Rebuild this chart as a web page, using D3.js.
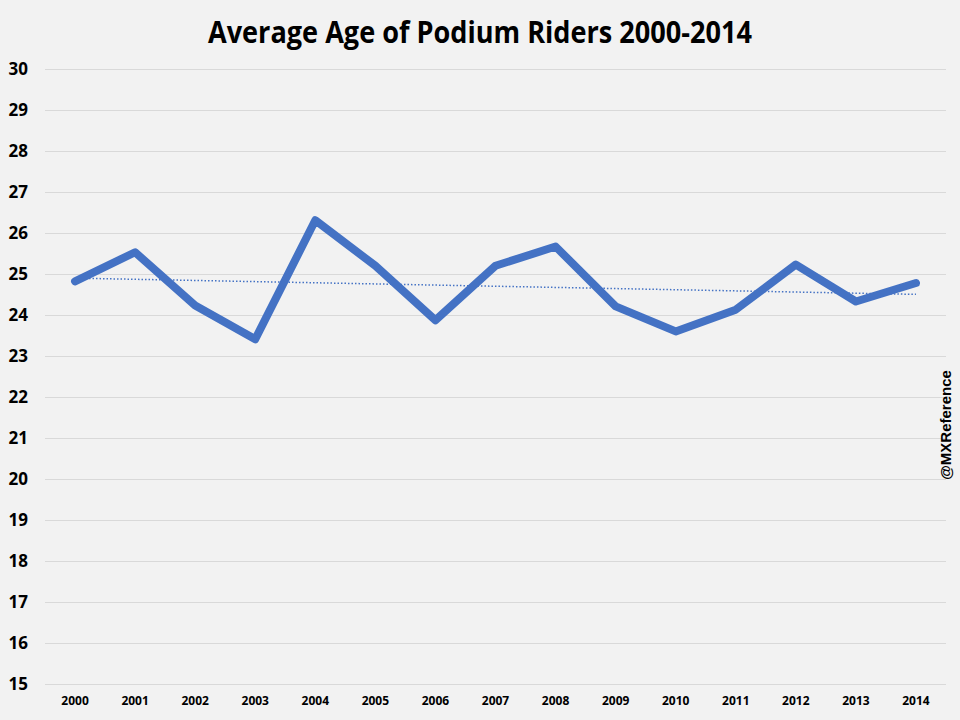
<!DOCTYPE html>
<html>
<head>
<meta charset="utf-8">
<script src="https://cdn.jsdelivr.net/npm/d3@7"></script>
<style>
  body { margin: 0; background: #f2f2f2; }
  svg { display: block; }
</style>
</head>
<body>
<script>
// Average age of podium riders, line + linear trend
const years = ["2000","2001","2002","2003","2004","2005","2006","2007","2008","2009","2010","2011","2012","2013","2014"]
const ages = [24.82, 25.53, 24.23, 23.41, 26.31, 25.2, 23.87, 25.2, 25.67, 24.21, 23.6, 24.13, 25.23, 24.33, 24.78]
const yTicks = [15,16,17,18,19,20,21,22,23,24,25,26,27,28,29,30]

const w = 960, h = 720
const padL = 45, padR = 946, padT = 69, padB = 684

const svg = d3.select("body").append("svg")
  .attr("width", w).attr("height", h)
  .style("background-color", "#f2f2f2")

svg.append("text")
  .attr("x", 480).attr("y", 43)
  .attr("text-anchor", "middle")
  .style("font-family", "'Open Sans', 'Liberation Sans', sans-serif")
  .style("font-weight", "bold")
  .style("font-size", "30px")
  .attr("textLength", 544)
  .attr("lengthAdjust", "spacingAndGlyphs")
  .text("Average Age of Podium Riders 2000-2014")

//? scales
const xScale = d3.scaleBand().domain(years).range([padL, padR])
const yScale = d3.scaleLinear().domain([15, 30]).range([padB, padT])

// gridlines
const yAxis = d3.axisLeft(yScale).tickValues(yTicks).tickSize(-(padR - padL)).tickPadding(17)
const gy = svg.append("g")
  .attr("transform", "translate(" + padL + ",0)")
  .call(yAxis)
gy.select(".domain").remove()
gy.selectAll(".tick line").attr("stroke", "#d9d9d9").attr("stroke-width", 1)
gy.selectAll(".tick text")
  .style("font-family", "'Open Sans', 'Liberation Sans', sans-serif")
  .style("font-weight", "bold")
  .style("font-size", "17px")
  .attr("fill", "#000")

const xAxis = d3.axisBottom(xScale).tickSize(0).tickPadding(12)
const gx = svg.append("g")
  .attr("transform", "translate(0," + padB + ")")
  .call(xAxis)
gx.select(".domain").remove()
gx.selectAll(".tick text")
  .style("font-family", "'Open Sans', 'Liberation Sans', sans-serif")
  .style("font-weight", "bold")
  .style("font-size", "12px")
  .attr("fill", "#000")

const cx = (d, i) => xScale(years[i]) + xScale.bandwidth() / 2

// trend line (least squares over the series)
const n = ages.length
const mx = d3.mean(ages, (d, i) => i)
const my = d3.mean(ages)
const slope = d3.sum(ages, (d, i) => (i - mx) * (d - my)) / d3.sum(ages, (d, i) => (i - mx) * (i - mx))
const icpt = my - slope * mx
const trend = [icpt, icpt + slope * (n - 1)]

svg.append("line")
  .attr("x1", xScale(years[0]) + xScale.bandwidth() / 2)
  .attr("x2", xScale(years[n - 1]) + xScale.bandwidth() / 2)
  .attr("y1", yScale(trend[0]))
  .attr("y2", yScale(trend[1]))
  .attr("stroke", "#4472c4")
  .attr("stroke-width", 1.5)
  .attr("stroke-dasharray", "1.5,2")

const line = d3.line().x(cx).y(d => yScale(d))
svg.append("path")
  .datum(ages)
  .attr("d", line)
  .attr("fill", "none")
  .attr("stroke", "#4472c4")
  .attr("stroke-width", 8)
  .attr("stroke-linejoin", "round")
  .attr("stroke-linecap", "round")

svg.append("text")
  .attr("transform", "translate(951,425) rotate(-90)")
  .attr("text-anchor", "middle")
  .style("font-family", "'Liberation Sans', Arial, sans-serif")
  .style("font-weight", "bold")
  .style("font-size", "15px")
  .text("@MXReference")
</script>
</body>
</html>
